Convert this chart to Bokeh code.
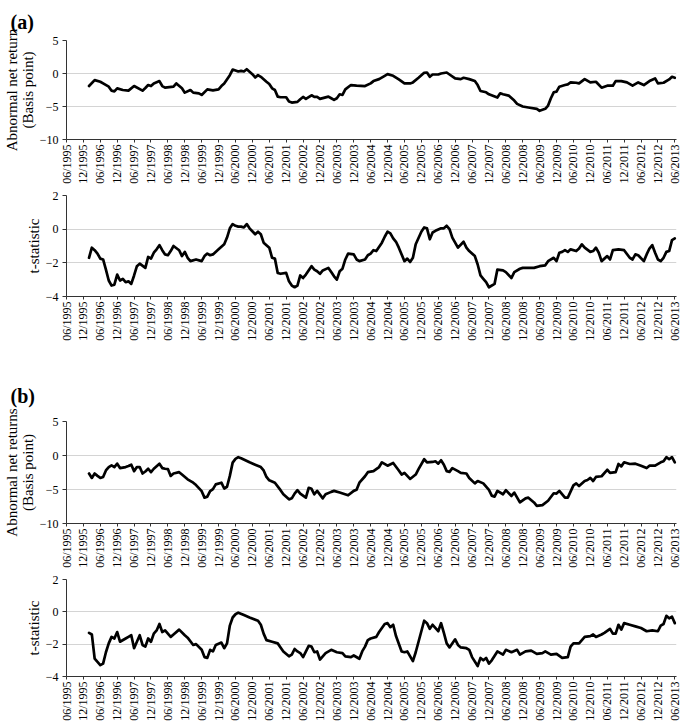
import math
from bokeh.plotting import figure
from bokeh.models import Range1d, FixedTicker
from bokeh.layouts import column
from bokeh.embed import file_html
from bokeh.resources import INLINE

# x positions are months counted from 06/1995
tick_months = list(range(0, 217, 6))
tick_labels = [("06" if i % 2 == 0 else "12") + "/" + str(1995 + i // 2) for i in range(len(tick_months))]

# (a) abnormal net return (basis point)
a_ret_month = [8, 10, 12, 13, 15, 16, 17, 18, 20, 22, 24, 27, 28, 29, 30, 31, 33, 34, 35, 38, 39, 41, 42, 44, 45, 47, 48, 50, 52, 54,
               55, 56, 58, 59, 60, 61, 62, 63, 64, 66, 67, 68, 69, 71, 72, 73, 74, 75, 76, 78, 79, 80, 82, 83, 84, 85, 87, 88, 89, 90,
               93, 94, 95, 96, 97, 98, 99, 101, 103, 106, 108, 109, 111, 113, 114, 116, 118, 120, 122, 123, 125, 127, 128, 129, 130,
               132, 133, 135, 136, 138, 140, 141, 143, 145, 146, 147, 149, 150, 153, 154, 155, 157, 159, 160, 162, 164, 167, 168, 170,
               171, 172, 173, 174, 175, 177, 178, 179, 181, 182, 184, 186, 188, 190, 192, 194, 195, 197, 199, 201, 203, 205, 207, 209,
               210, 212, 214, 215, 216]
a_ret_value = [-1.9, -1.0, -1.25, -1.5, -2.0, -2.6, -2.7, -2.25, -2.5, -2.6, -1.9, -2.6, -2.2, -1.75, -1.9, -1.5, -1.15, -1.9, -2.15,
               -2.0, -1.5, -2.25, -2.9, -2.5, -2.9, -3.0, -3.25, -2.4, -2.55, -2.4,
               -1.9, -1.5, -0.25, 0.6, 0.45, 0.3, 0.4, 0.3, 0.65, -0.1, -0.6, -0.25, -0.5, -1.25, -1.6, -2.25, -2.5, -3.5, -3.6, -3.6,
               -4.25, -4.4, -4.3, -3.9, -3.55, -3.85, -3.3, -3.55, -3.55, -3.85,
               -3.5, -3.75, -4.0, -3.75, -3.15, -3.25, -2.4, -1.75, -1.85, -1.9, -1.5, -1.15, -0.85, -0.35, -0.1, -0.35, -0.9, -1.5,
               -1.5, -1.35, -0.65, 0.1, 0.15, -0.5, -0.15,
               -0.15, 0.0, 0.15, -0.15, -0.75, -0.85, -0.65, -0.85, -1.15, -1.75, -2.65, -2.85, -3.15, -3.65, -3.0, -3.15, -3.35,
               -4.1, -4.6, -5.0, -5.15, -5.35, -5.65, -5.35,
               -4.85, -3.75, -2.85, -2.75, -2.0, -1.75, -1.65, -1.35, -1.4, -1.5, -0.85, -1.35, -1.25, -2.15, -1.85, -1.85, -1.15,
               -1.15, -1.35, -1.85, -1.35, -1.75, -1.15, -0.75,
               -1.5, -1.4, -0.9, -0.5, -0.65]

# (a) t-statistic
a_t_month = [8, 9, 10, 11, 12, 13, 14, 15, 16, 17, 18, 19, 20, 21, 22, 23, 24, 25, 26, 28, 29, 30, 31, 32, 33, 34, 35, 36, 37, 38,
             40, 41, 42, 43, 44, 46, 48, 49, 50, 51, 52, 54, 56, 57, 58, 59, 60, 61, 62, 63, 64, 65, 67, 68, 69, 70, 72, 73, 74, 75,
             76, 78, 79, 80, 81, 82, 83, 84, 85, 87, 88, 89, 90, 91, 93, 94, 95, 96, 97, 98, 99, 100, 102, 103, 104, 106, 107, 108,
             109, 110, 112, 113, 114, 115, 116, 117, 118, 119, 120, 121, 122, 123, 124, 126, 127, 128, 129, 130, 131, 133, 134, 135,
             136, 137, 139, 141, 142, 143, 145, 146, 147, 148, 149, 150, 152, 153, 155, 156, 158, 159, 161, 162, 166, 168, 170, 171,
             173, 174, 175, 176, 177, 178, 179, 181, 182, 183, 184, 186, 187, 188, 189, 190, 191, 192, 193, 194, 196, 198, 200, 201,
             202, 203, 205, 206, 207, 208, 209, 210, 211, 212, 213, 214, 215, 216]
a_t_value = [-1.7, -1.1, -1.25, -1.45, -1.75, -1.8, -2.4, -3.05, -3.35, -3.3, -2.7, -3.05, -2.95, -3.15, -3.1, -3.25, -2.75, -2.2,
             -2.05, -2.3, -1.65, -1.75, -1.4, -1.2, -0.95, -1.25, -1.5, -1.55, -1.3, -1.0,
             -1.25, -1.6, -1.35, -1.7, -1.9, -1.8, -1.9, -1.6, -1.45, -1.55, -1.5, -1.2, -0.9, -0.5, 0.05, 0.3, 0.2, 0.15, 0.15, 0.1,
             0.3, 0.05, -0.3, -0.15, -0.3, -0.8, -1.1, -1.7, -1.75, -2.6,
             -2.65, -2.6, -3.1, -3.35, -3.45, -3.35, -2.75, -2.9, -2.7, -2.2, -2.4, -2.5, -2.65, -2.45, -2.3, -2.55, -2.8, -3.0, -2.5,
             -2.35, -1.8, -1.45, -1.5, -1.8, -1.9, -1.8, -1.55, -1.45,
             -1.25, -1.3, -0.8, -0.45, -0.15, -0.25, -0.55, -0.75, -1.1, -1.5, -1.9, -1.75, -1.95, -1.7, -0.9, -0.15, 0.1, 0.05, -0.6,
             -0.2, -0.1, 0.05, 0.05, 0.2,
             0.0, -0.5, -1.1, -0.75, -1.1, -1.3, -1.6, -2.1, -2.75, -2.95, -3.15, -3.45, -3.25, -2.4, -2.45, -2.55, -2.9, -2.55,
             -2.35, -2.3, -2.3, -2.2, -2.15, -1.9,
             -1.7, -1.9, -1.4, -1.35, -1.25, -1.35, -1.2, -1.3, -1.15, -0.9, -1.1, -1.35, -1.3, -1.1, -1.4, -1.9, -1.75, -1.6, -1.8,
             -1.25, -1.2, -1.25, -1.7, -1.8,
             -1.5, -1.55, -1.9, -1.5, -1.15, -0.95, -1.4, -1.8, -1.9, -1.7, -1.35, -1.3, -0.65, -0.55]

# (b) abnormal net returns (basis point)
b_ret_month = [8, 9, 10, 11, 12, 13, 14, 15, 16, 17, 18, 19, 21, 22, 23, 24, 25, 26, 27, 28, 29, 30, 31, 33, 34, 35, 36, 37, 38, 40,
               41, 43, 45, 46, 48, 49, 50, 51, 52, 53, 55, 56, 57, 58, 59, 60, 61, 62, 65, 67, 69, 70, 71, 72, 74, 76, 77, 79, 80, 81,
               82, 83, 85, 86, 87, 88, 89, 91, 92, 94, 95, 97, 100, 102, 103, 104, 106, 107, 109, 111, 112, 114, 116, 118, 119, 120,
               122, 124, 125, 127, 128, 130, 131, 132, 133, 134, 135, 136, 137, 139, 140, 142, 143, 145, 146, 148, 150, 151, 152, 153,
               155, 156, 158, 159, 161, 163, 164, 166, 167, 169, 171, 173, 174, 175, 177, 178, 180, 181, 182, 184, 185, 186, 187, 188,
               190, 192, 193, 195, 196, 197, 198, 200, 202, 204, 206, 207, 209, 211, 212, 213, 214, 215, 216]
b_ret_value = [-2.65, -3.3, -2.65, -3.0, -3.3, -3.15, -2.2, -1.7, -1.45, -1.7, -1.2, -1.85, -1.7, -1.55, -1.35, -2.3, -1.7, -1.7, -2.65,
               -2.35, -1.95, -2.45, -1.95, -1.2, -1.85, -1.95, -2.0, -3.0, -2.65, -2.45,
               -2.8, -3.5, -4.0, -4.35, -5.25, -6.2, -6.05, -5.25, -4.95, -4.25, -4.0, -4.85, -4.6, -3.0, -1.05, -0.5, -0.25, -0.4,
               -1.0, -1.35, -1.7, -2.2, -3.15, -3.65, -4.0, -5.1, -5.7, -6.45, -6.3, -5.6,
               -5.1, -5.6, -6.2, -4.75, -4.9, -5.7, -5.2, -6.3, -5.7, -5.35, -5.2, -5.45, -5.85, -5.2, -5.05, -4.0, -3.05, -2.45,
               -2.3, -1.7, -1.0, -1.5, -1.1, -2.2, -2.8, -2.55,
               -3.45, -2.8, -2.0, -0.55, -1.0, -0.95, -0.85, -1.2, -0.7, -1.35, -2.3, -2.4, -1.85, -2.3, -2.55, -2.65, -3.3, -4.1,
               -3.75, -4.1, -5.05, -5.9, -6.05, -5.2,
               -5.7, -5.1, -5.95, -5.45, -6.9, -6.3, -6.2, -6.9, -7.4, -7.3, -6.65, -5.55, -5.6, -5.2, -6.2, -6.2, -4.4, -4.1, -4.5,
               -3.75, -3.6, -3.3, -3.75, -3.15,
               -3.05, -2.1, -2.55, -2.45, -1.25, -1.6, -1.0, -1.25, -1.2, -1.5, -1.85, -1.5, -1.5, -1.0, -0.85, -0.25, -0.55, -0.25,
               -1.0]

# (b) t-statistic
b_t_month = [8, 9, 10, 11, 12, 13, 14, 15, 16, 17, 18, 19, 21, 22, 23, 24, 25, 26, 27, 28, 29, 30, 31, 32, 33, 34, 35, 37, 38, 40,
             42, 43, 45, 46, 48, 49, 50, 51, 52, 53, 55, 56, 57, 58, 59, 60, 61, 63, 65, 68, 69, 70, 71, 73, 75, 76, 77, 79, 80, 81,
             82, 83, 84, 86, 87, 88, 89, 90, 92, 94, 96, 98, 99, 101, 102, 104, 105, 106, 107, 108, 110, 111, 112, 113, 114, 115,
             116, 117, 119, 120, 121, 123, 124, 125, 127, 128, 129, 130, 132, 133, 134, 135, 136, 138, 139, 140, 142, 143, 144, 146,
             147, 148, 149, 150, 151, 153, 155, 156, 158, 160, 161, 163, 165, 167, 169, 170, 172, 174, 176, 178, 179, 180, 182, 184,
             186, 187, 188, 190, 191, 193, 194, 195, 196, 197, 198, 200, 202, 204, 206, 208, 210, 211, 212, 213, 214, 215, 216]
b_t_value = [-1.3, -1.4, -2.9, -3.1, -3.3, -3.2, -2.5, -1.95, -1.55, -1.65, -1.25, -1.85, -1.65, -1.55, -1.45, -2.25, -1.85, -1.45,
             -2.05, -2.15, -1.65, -1.85, -1.35, -1.15, -0.75, -1.25, -1.15, -1.55, -1.4, -1.1,
             -1.45, -1.6, -2.05, -2.0, -2.35, -2.8, -2.85, -2.35, -2.45, -2.05, -1.9, -2.25, -1.95, -0.85, -0.35, -0.15, -0.05, -0.2,
             -0.35, -0.55, -0.8, -1.35, -1.75, -1.85, -1.95, -2.2, -2.45, -2.75, -2.65, -2.3,
             -2.45, -2.55, -2.8, -2.1, -2.15, -2.5, -2.45, -2.95, -2.55, -2.35, -2.5, -2.55, -2.75, -2.8, -2.7, -2.9, -2.45, -2.15,
             -1.75, -1.65, -1.55, -1.25, -1.0, -0.75, -0.7, -0.95,
             -0.8, -1.5, -2.45, -2.5, -2.45, -3.05, -2.5, -1.85, -0.55, -0.7, -1.05, -0.8, -1.2, -0.7, -1.3, -1.95, -2.2, -1.7, -2.05,
             -2.2, -2.25, -2.35, -2.8, -3.35,
             -2.85, -3.0, -2.85, -3.2, -3.0, -2.45, -2.65, -2.35, -2.5, -2.35, -2.65, -2.45, -2.4, -2.6, -2.55, -2.45, -2.65, -2.6,
             -2.85, -2.8, -2.15, -1.95, -1.95, -1.55,
             -1.5, -1.4, -1.55, -1.4, -1.3, -1.05, -1.35, -1.35, -0.8, -1.1, -0.7, -0.8, -0.9, -1.0, -1.2, -1.15, -1.2, -0.85, -0.75,
             -0.25, -0.4, -0.3, -0.7]

SERIF = "Liberation Serif"
FIG_W = 681
LEFT = 63
RIGHT = 5
BOTTOM = 48


def make_panel(months, values, y_lo, y_hi, y_ticks, y_label, frame_h, top, letter=None, letter_standoff=8):
    p = figure(width=FIG_W, height=top + frame_h + BOTTOM, output_backend="svg", toolbar_location=None,
               x_range=Range1d(0, 216.6), y_range=Range1d(y_lo, y_hi),
               min_border_left=LEFT, min_border_right=RIGHT, min_border_top=top, min_border_bottom=BOTTOM)
    p.line(months, values, line_color="black", line_width=2.7, line_join="round", line_cap="round")
    p.outline_line_color = None
    p.background_fill_color = "white"
    p.border_fill_color = "white"
    p.xgrid.visible = False
    p.ygrid.grid_line_color = "#d4d4d4"
    p.ygrid.grid_line_width = 1

    if letter is not None:
        p.title.text = letter
        p.title.align = "left"
        p.title.offset = -(LEFT - 7)
        p.title.text_font = SERIF
        p.title.text_font_size = "20px"
        p.title.text_font_style = "bold"
        p.title.text_color = "black"
        p.title.standoff = letter_standoff

    xa = p.xaxis[0]
    xa.ticker = FixedTicker(ticks=tick_months)
    xa.major_label_overrides = {m: lab for m, lab in zip(tick_months, tick_labels)}
    xa.major_label_orientation = math.pi / 2
    ya = p.yaxis[0]
    ya.ticker = FixedTicker(ticks=y_ticks)
    for ax in (xa, ya):
        ax.minor_tick_line_color = None
        ax.axis_line_color = "#333333"
        ax.major_tick_line_color = "#333333"
        ax.major_tick_in = 0
        ax.major_label_text_font = SERIF
        ax.major_label_text_font_size = "12px"
        ax.major_label_text_color = "black"
    xa.major_tick_out = 3
    xa.major_label_standoff = 2
    ya.major_tick_out = 4
    ya.major_label_standoff = 4
    ya.axis_label = y_label
    ya.axis_label_text_font = SERIF
    ya.axis_label_text_font_size = "15px"
    ya.axis_label_text_font_style = "normal"
    ya.axis_label_text_color = "black"
    ya.axis_label_text_line_height = 1.0
    ya.axis_label_standoff = 1
    return p


p1 = make_panel(a_ret_month, a_ret_value, -10, 5, [-10, -5, 0, 5], "Abnormal net return\n(Basis point)", 100, 39,
                letter="(a)", letter_standoff=16)
p2 = make_panel(a_t_month, a_t_value, -4, 2, [-4, -2, 0, 2], "t-statistic", 101, 8)
p3 = make_panel(b_ret_month, b_ret_value, -10, 5, [-10, -5, 0, 5], "Abnormal net returns\n(Basis point)", 102, 77,
                letter="(b)", letter_standoff=29)
p4 = make_panel(b_t_month, b_t_value, -4, 2, [-4, -2, 0, 2], "t-statistic", 97, 8)

layout = column(p1, p2, p3, p4, spacing=0)

open("out.html", "w").write(file_html(layout, INLINE))
